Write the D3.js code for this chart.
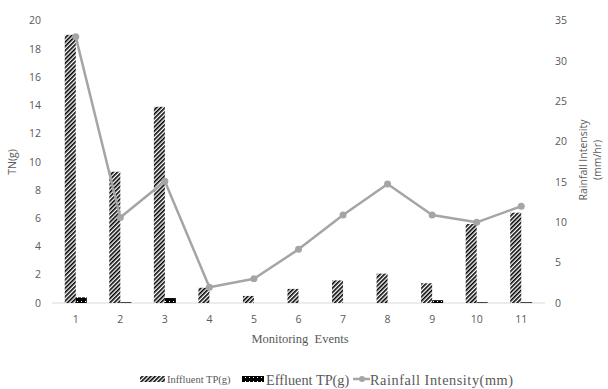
<!DOCTYPE html>
<html><head><meta charset="utf-8">
<script src="https://cdn.jsdelivr.net/npm/d3@7"></script>
<style>body{margin:0;background:#fff}svg{display:block}</style>
</head><body><svg id="c" width="608" height="389"></svg>
<script>
const events = ["1","2","3","4","5","6","7","8","9","10","11"];
const influentTP = [19.0, 9.3, 13.9, 1.08, 0.5, 1.0, 1.6, 2.08, 1.4, 5.6, 6.4];
const effluentTP = [0.4, 0.05, 0.35, 0, 0, 0, 0, 0, 0.2, 0.05, 0.05];
const rainfall = [33.0, 10.6, 15.1, 1.95, 3.0, 6.65, 10.9, 14.75, 10.9, 10.0, 12.0];
const leftTicks = [0,2,4,6,8,10,12,14,16,18,20];
const rightTicks = [0,5,10,15,20,25,30,35];

const svg = d3.select("#c");
const defs = svg.append("defs");
const hp = defs.append("pattern").attr("id","hatch").attr("patternUnits","userSpaceOnUse")
  .attr("width",3).attr("height",3).attr("patternTransform","rotate(45)");
hp.append("rect").attr("width",3).attr("height",3).attr("fill","#fff");
hp.append("rect").attr("width",1.6).attr("height",3).attr("fill","#000");
const dp = defs.append("pattern").attr("id","dots").attr("patternUnits","userSpaceOnUse")
  .attr("width",4).attr("height",4);
dp.append("rect").attr("width",4).attr("height",4).attr("fill","#000");
dp.append("rect").attr("x",1).attr("y",1).attr("width",1).attr("height",1).attr("fill","#fff");

const x = d3.scaleBand().domain(events).range([53.5, 543.5]);
const yL = d3.scaleLinear().domain([0,20]).range([303, 20.7]);
const yR = d3.scaleLinear().domain([0,35]).range([303, 20.7]);
const bw = 11;

const sansFont = "'Open Sans', 'Noto Sans', sans-serif";
const serif = "'Liberation Serif', 'Times New Roman', serif";

svg.append("line").attr("x1",52).attr("x2",545).attr("y1",yL(0)).attr("y2",yL(0))
  .attr("stroke","#d9d9d9").attr("stroke-width",1);

svg.append("g").selectAll("text").data(leftTicks).join("text")
  .attr("x",41).attr("y",d=>yL(d)).attr("dy","0.35em").attr("text-anchor","end")
  .attr("font-family",sansFont).attr("font-size",10.5).attr("fill","#595959").text(d=>d);
svg.append("g").selectAll("text").data(rightTicks).join("text")
  .attr("x",555).attr("y",d=>yR(d)).attr("dy","0.35em").attr("text-anchor","start")
  .attr("font-family",sansFont).attr("font-size",10.5).attr("fill","#595959").text(d=>d);
svg.append("g").selectAll("text").data(events).join("text")
  .attr("x",d=>x(d)+x.bandwidth()/2).attr("y",319).attr("dy","0.35em").attr("text-anchor","middle")
  .attr("font-family",sansFont).attr("font-size",10.5).attr("fill","#595959").text(d=>d);

svg.append("text").attr("transform","translate(16,162) rotate(-90)").attr("text-anchor","middle")
  .attr("font-family",sansFont).attr("font-size",10.5).attr("fill","#595959").text("TN(g)");
svg.append("text").attr("transform","translate(587,160) rotate(-90)").attr("text-anchor","middle")
  .attr("font-family",sansFont).attr("font-size",10.5).attr("fill","#595959").text("Rainfall Intensity");
svg.append("text").attr("transform","translate(601,160) rotate(-90)").attr("text-anchor","middle")
  .attr("font-family",sansFont).attr("font-size",10.5).attr("fill","#595959").text("(mm/hr)");
svg.append("text").attr("x",300).attr("y",343).attr("text-anchor","middle")
  .style("white-space","pre")
  .attr("font-family",serif).attr("font-size",12.5).attr("fill","#595959").text("Monitoring  Events");

svg.append("g").selectAll("rect").data(influentTP).join("rect")
  .attr("x",(d,i)=>x(events[i])+x.bandwidth()/2-bw).attr("width",bw)
  .attr("y",d=>yL(d)).attr("height",d=>yL(0)-yL(d)).attr("fill","url(#hatch)");
svg.append("g").selectAll("rect").data(effluentTP).join("rect")
  .attr("x",(d,i)=>x(events[i])+x.bandwidth()/2).attr("width",bw)
  .attr("y",d=>yL(d)).attr("height",d=>Math.max(0,yL(0)-yL(d))).attr("fill","url(#dots)");

const line = d3.line().x((d,i)=>x(events[i])+x.bandwidth()/2).y(d=>yR(d));
svg.append("path").datum(rainfall).attr("d",line).attr("fill","none")
  .attr("stroke","#a5a5a5").attr("stroke-width",2.5).attr("stroke-linejoin","round");
svg.append("g").selectAll("circle").data(rainfall).join("circle")
  .attr("cx",(d,i)=>x(events[i])+x.bandwidth()/2).attr("cy",d=>yR(d)).attr("r",3.5).attr("fill","#a5a5a5");

const ly = 380;
svg.append("rect").attr("x",140).attr("y",ly-4).attr("width",25).attr("height",6).attr("fill","url(#hatch)");
svg.append("text").attr("x",167).attr("y",ly+3).attr("font-family",serif).attr("font-size",10.5)
  .attr("fill","#595959").text("Inffluent TP(g)");
svg.append("rect").attr("x",242).attr("y",ly-4).attr("width",22).attr("height",6).attr("fill","url(#dots)");
svg.append("text").attr("x",266).attr("y",ly+4.5).attr("font-family",serif).attr("font-size",14.3)
  .attr("fill","#595959").text("Effluent TP(g)");
svg.append("line").attr("x1",353).attr("x2",370).attr("y1",ly-1).attr("y2",ly-1).attr("stroke","#a5a5a5").attr("stroke-width",2.5);
svg.append("circle").attr("cx",362).attr("cy",ly-1).attr("r",3).attr("fill","#a5a5a5");
svg.append("text").attr("x",370).attr("y",ly+4.5).attr("font-family",serif).attr("font-size",14.3)
  .attr("fill","#595959").attr("textLength",143).attr("lengthAdjust","spacing").text("Rainfall Intensity(mm)");
</script></body></html>
